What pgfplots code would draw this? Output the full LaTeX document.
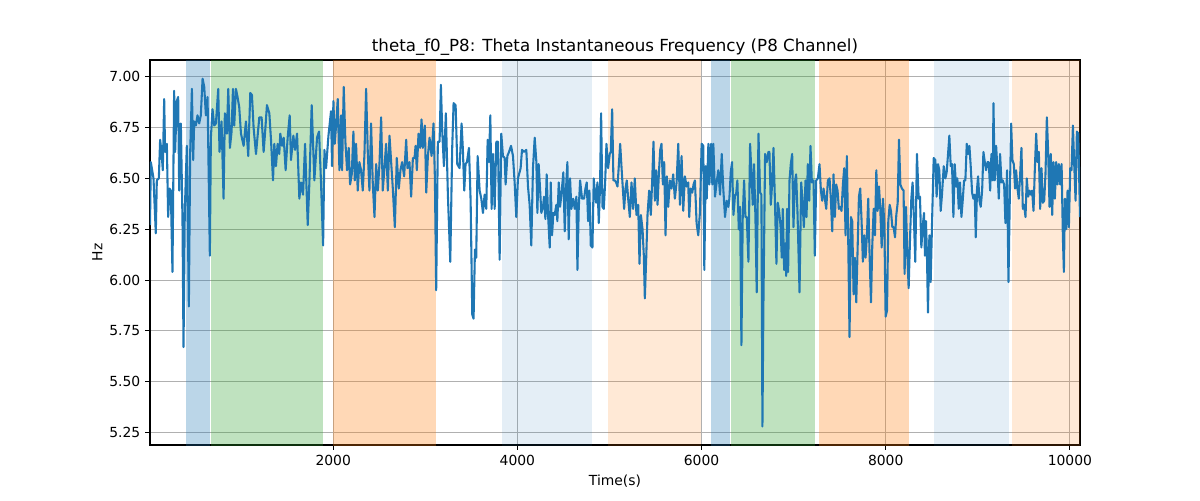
\documentclass[border=0pt]{standalone}
\usepackage{fontspec}
\setmainfont{DejaVu Sans}
\usepackage{pgfplots}
\pgfplotsset{compat=1.18}
\definecolor{lineblue}{RGB}{31,119,180}
\definecolor{tabblue}{RGB}{31,119,180}
\definecolor{tabgreen}{RGB}{44,160,44}
\definecolor{taborange}{RGB}{255,127,14}
\definecolor{gridgray}{RGB}{176,176,176}
\begin{document}
\begin{tikzpicture}
\useasboundingbox (-108pt,-39.6pt) rectangle (756pt,320.4pt);
\begin{axis}[
  at={(0pt,0pt)}, anchor=south west,
  scale only axis, width=669.6pt, height=277.2pt,
  xmin=10, xmax=10110, ymin=5.189, ymax=7.082,
  grid=major, grid style={color=gridgray, line width=0.8pt},
  axis line style={line width=0.8pt},
  tick style={line width=0.8pt, black},
  tick align=outside, major tick length=3.5pt,
  xtick pos=bottom, ytick pos=left,
  scaled x ticks=false, scaled y ticks=false,
  xtick={2000,4000,6000,8000,10000},
  ytick={5.25,5.5,5.75,6.0,6.25,6.5,6.75,7.0},
  x tick label style={/pgf/number format/1000 sep={}},
  y tick label style={/pgf/number format/.cd, fixed, fixed zerofill, precision=2},
  /pgf/number format/assume math mode=true,
  tick label style={font=\fontsize{10}{12}\selectfont},
  every axis title shift=0pt,
  title={theta\_f0\_P8: Theta Instantaneous Frequency (P8 Channel)},
  title style={font=\fontsize{12}{14.4}\selectfont, at={(axis description cs:0.5,1)}, anchor=base, yshift=6pt, inner sep=0pt},
  xlabel={Time(s)},
  xlabel style={font=\fontsize{10}{12}\selectfont, at={(axis description cs:0.5,0)}, anchor=north, yshift=-21.5pt, inner sep=0pt},
  ylabel={Hz},
  ylabel style={font=\fontsize{10}{12}\selectfont, at={(axis description cs:-0.0567,0.5)}, anchor=center, inner sep=0pt},
]
\addplot[fill=tabblue, fill opacity=0.3, draw=none] coordinates {(402,4) (402,8) (660,8) (660,4)};
\addplot[fill=tabgreen, fill opacity=0.3, draw=none] coordinates {(671,4) (671,8) (1893,8) (1893,4)};
\addplot[fill=taborange, fill opacity=0.3, draw=none] coordinates {(1994,4) (1994,8) (3118,8) (3118,4)};
\addplot[fill=tabblue, fill opacity=0.12, draw=none] coordinates {(3829,4) (3829,8) (4808,8) (4808,4)};
\addplot[fill=taborange, fill opacity=0.17, draw=none] coordinates {(4982,4) (4982,8) (5994,8) (5994,4)};
\addplot[fill=tabblue, fill opacity=0.3, draw=none] coordinates {(6102,4) (6102,8) (6309,8) (6309,4)};
\addplot[fill=tabgreen, fill opacity=0.3, draw=none] coordinates {(6317,4) (6317,8) (7234,8) (7234,4)};
\addplot[fill=taborange, fill opacity=0.3, draw=none] coordinates {(7277,4) (7277,8) (8253,8) (8253,4)};
\addplot[fill=tabblue, fill opacity=0.12, draw=none] coordinates {(8521,4) (8521,8) (9344,8) (9344,4)};
\addplot[fill=taborange, fill opacity=0.17, draw=none] coordinates {(9366,4) (9366,8) (10300,8) (10300,4)};
\addplot[color=lineblue, line width=1.5pt, line join=round, mark=none] table {
x y
10 6.27
19 6.58
48 6.50
73 6.23
84 6.49
106 6.50
120 6.69
135 6.63
149 6.54
164 6.89
174 6.63
193 6.67
207 6.31
222 6.45
236 6.44
254 6.04
272 6.93
283 6.63
301 6.88
316 6.90
327 6.44
345 6.77
363 6.29
374 5.67
388 6.34
410 6.66
432 5.87
446 6.62
465 6.94
479 6.59
490 6.78
508 6.76
526 6.81
544 6.77
562 6.81
581 6.99
599 6.95
617 6.81
635 6.90
660 6.12
671 6.70
689 6.84
707 6.76
726 6.77
751 6.94
765 6.63
787 6.78
809 6.40
823 6.82
845 6.72
860 6.94
878 6.65
896 6.73
911 6.94
925 6.76
943 6.94
961 6.90
979 6.85
998 6.72
1027 6.66
1052 6.78
1077 6.61
1099 6.92
1117 6.91
1135 6.75
1161 6.62
1197 6.80
1222 6.80
1244 6.63
1259 6.72
1280 6.86
1306 6.82
1324 6.69
1346 6.49
1360 6.67
1378 6.56
1396 6.67
1414 6.62
1425 6.72
1444 6.66
1462 6.70
1483 6.54
1505 6.70
1527 6.81
1541 6.59
1567 6.71
1585 6.64
1607 6.72
1632 6.40
1650 6.48
1672 6.42
1694 6.67
1723 6.27
1741 6.48
1766 6.86
1795 6.49
1824 6.70
1846 6.73
1868 6.47
1890 6.17
1904 6.64
1922 6.55
1948 6.71
1976 6.83
1987 6.56
2002 6.88
2016 6.67
2031 6.76
2049 6.89
2067 6.54
2085 6.81
2096 6.54
2114 6.95
2132 6.68
2150 6.54
2168 6.65
2183 6.47
2201 6.52
2219 6.73
2234 6.49
2248 6.67
2266 6.44
2284 6.58
2302 6.54
2321 6.44
2339 6.62
2357 6.94
2375 6.63
2393 6.44
2411 6.77
2429 6.48
2448 6.31
2466 6.57
2484 6.44
2502 6.57
2520 6.80
2538 6.44
2556 6.55
2574 6.67
2593 6.44
2611 6.71
2629 6.58
2647 6.45
2669 6.26
2690 6.60
2712 6.45
2730 6.54
2748 6.58
2770 6.51
2792 6.69
2806 6.55
2828 6.58
2846 6.41
2865 6.60
2883 6.60
2894 6.66
2908 6.54
2926 6.72
2944 6.65
2959 6.79
2973 6.65
2995 6.76
3010 6.43
3028 6.61
3046 6.70
3068 6.61
3089 6.77
3104 6.50
3118 5.95
3136 6.68
3155 6.68
3169 6.96
3184 6.73
3202 6.56
3223 6.82
3245 6.42
3271 6.09
3292 6.65
3307 6.87
3329 6.86
3347 6.57
3372 6.55
3394 6.77
3408 6.64
3423 6.44
3437 6.57
3452 6.58
3474 6.65
3492 6.39
3510 5.83
3524 5.81
3539 6.15
3553 6.11
3568 6.61
3590 6.44
3608 6.40
3626 6.33
3644 6.42
3662 6.35
3677 6.69
3691 6.58
3706 6.81
3720 6.35
3735 6.62
3753 6.35
3771 6.68
3789 6.68
3807 6.10
3825 6.72
3843 6.61
3862 6.60
3872 6.47
3891 6.61
3909 6.63
3931 6.66
3952 6.61
3970 6.48
3988 6.31
4006 6.50
4035 6.55
4050 6.64
4072 6.63
4097 6.64
4115 6.46
4133 6.37
4151 6.17
4169 6.55
4188 6.70
4206 6.58
4217 6.33
4231 6.57
4246 6.45
4260 6.33
4278 6.36
4289 6.41
4304 6.30
4318 6.52
4333 6.32
4351 6.16
4362 6.48
4376 6.22
4391 6.33
4405 6.32
4423 6.37
4434 6.29
4449 6.48
4463 6.36
4478 6.42
4499 6.53
4514 6.24
4532 6.49
4543 6.58
4557 6.20
4572 6.50
4586 6.35
4605 6.40
4623 6.35
4641 6.41
4652 6.05
4666 6.35
4681 6.49
4702 6.40
4724 6.40
4739 6.45
4753 6.48
4768 6.29
4782 6.44
4797 6.17
4815 6.16
4829 6.50
4840 6.44
4855 6.38
4869 6.48
4884 6.28
4898 6.47
4909 6.82
4924 6.36
4938 6.35
4953 6.48
4967 6.67
4985 6.55
5003 6.62
5014 6.63
5029 6.84
5043 6.49
5058 6.49
5072 6.48
5087 6.46
5101 6.56
5116 6.67
5130 6.56
5145 6.45
5159 6.35
5174 6.45
5188 6.49
5203 6.40
5221 6.31
5239 6.48
5257 6.35
5275 6.50
5293 6.32
5312 6.37
5326 6.08
5341 6.32
5359 6.25
5373 6.12
5384 5.91
5399 6.11
5413 6.32
5431 6.44
5449 6.32
5464 6.49
5478 6.68
5493 6.39
5507 6.54
5522 6.37
5536 6.52
5551 6.64
5565 6.67
5580 6.47
5594 6.58
5609 6.22
5623 6.51
5638 6.36
5656 6.49
5674 6.45
5692 6.52
5710 6.40
5729 6.48
5747 6.67
5765 6.37
5783 6.61
5801 6.34
5819 6.51
5837 6.46
5855 6.48
5866 6.31
5881 6.45
5899 6.43
5913 6.47
5928 6.49
5946 6.28
5964 6.22
5982 6.33
6001 6.67
6019 6.66
6030 6.05
6045 6.56
6056 6.40
6074 6.67
6085 6.47
6103 6.67
6117 6.47
6128 6.67
6146 6.41
6164 6.48
6182 6.54
6201 6.42
6219 6.62
6237 6.44
6255 6.31
6273 6.39
6291 6.36
6302 6.40
6317 6.53
6331 6.58
6346 6.32
6364 6.42
6375 6.42
6389 6.49
6404 6.25
6418 6.36
6433 5.68
6447 6.31
6462 6.49
6476 6.31
6491 6.31
6509 6.09
6527 6.67
6545 6.49
6556 6.37
6570 6.57
6585 6.31
6599 5.94
6618 6.72
6636 6.43
6650 6.42
6661 5.28
6672 5.89
6690 6.62
6708 6.58
6726 6.63
6737 6.63
6752 6.37
6766 6.47
6781 6.65
6799 6.35
6813 6.08
6828 6.38
6842 6.34
6857 6.27
6871 6.11
6882 6.35
6897 6.05
6908 6.18
6919 6.02
6929 6.35
6940 6.04
6955 6.49
6969 6.57
6984 6.62
6998 6.26
7013 6.48
7027 6.52
7042 6.33
7064 5.94
7082 6.48
7096 6.39
7111 6.26
7129 6.49
7140 6.31
7154 6.57
7169 6.39
7183 6.66
7198 6.48
7216 6.49
7230 6.12
7245 6.49
7263 6.50
7281 6.57
7296 6.44
7310 6.39
7325 6.45
7339 6.40
7354 6.35
7372 6.49
7390 6.50
7404 6.40
7419 6.24
7433 6.52
7448 6.31
7462 6.47
7477 6.44
7491 6.35
7506 6.36
7520 6.34
7535 6.47
7549 6.55
7564 6.22
7578 6.61
7593 6.19
7607 5.72
7622 6.31
7636 6.29
7651 5.93
7665 6.11
7680 5.89
7694 6.14
7709 6.41
7723 6.45
7738 6.29
7752 6.09
7767 6.22
7781 6.11
7796 6.22
7810 6.40
7825 6.12
7840 5.89
7854 6.17
7869 6.35
7883 6.22
7898 6.54
7912 6.34
7927 6.46
7941 6.35
7956 6.16
7970 6.40
7985 6.27
7999 5.82
8014 5.85
8028 6.29
8043 6.37
8057 6.34
8072 6.26
8086 6.26
8101 6.21
8115 6.32
8130 6.38
8144 6.69
8159 6.47
8176 6.45
8194 6.44
8205 6.03
8220 6.36
8234 6.14
8249 5.96
8263 6.19
8278 6.40
8292 6.48
8307 6.29
8321 6.09
8339 6.62
8358 6.40
8372 6.41
8387 6.16
8401 6.26
8416 6.33
8426 6.12
8437 6.29
8448 6.12
8459 5.84
8474 6.22
8488 5.99
8503 6.28
8521 6.60
8539 6.59
8553 6.41
8568 6.57
8582 6.54
8597 6.34
8611 6.42
8630 6.56
8648 6.50
8662 6.53
8677 6.62
8691 6.71
8706 6.56
8720 6.57
8735 6.31
8749 6.57
8764 6.46
8778 6.50
8793 6.35
8807 6.48
8822 6.31
8836 6.39
8851 6.49
8865 6.49
8880 6.67
8894 6.62
8909 6.66
8923 6.56
8938 6.43
8952 6.40
8967 6.42
8978 6.21
8992 6.45
9003 6.51
9018 6.39
9032 6.36
9047 6.44
9061 6.63
9076 6.58
9090 6.54
9105 6.58
9119 6.58
9134 6.44
9148 6.62
9163 6.49
9170 6.87
9184 6.49
9199 6.66
9213 6.55
9228 6.40
9242 6.62
9257 6.48
9271 6.49
9286 6.47
9300 6.28
9318 6.54
9333 5.99
9347 6.39
9362 6.77
9376 6.59
9391 6.57
9405 6.45
9416 6.54
9431 6.45
9445 6.40
9460 6.52
9474 6.65
9489 6.35
9503 6.37
9518 6.31
9532 6.50
9547 6.41
9561 6.44
9576 6.42
9590 6.44
9605 6.34
9619 6.54
9634 6.72
9648 6.58
9663 6.63
9677 6.35
9692 6.55
9706 6.38
9721 6.39
9735 6.52
9750 6.80
9764 6.63
9779 6.36
9793 6.62
9808 6.32
9822 6.58
9837 6.40
9851 6.58
9866 6.47
9880 6.57
9895 6.47
9910 6.57
9924 6.21
9935 6.04
9946 6.40
9960 6.25
9975 6.44
9989 6.26
10004 6.55
10018 6.54
10033 6.76
10047 6.57
10062 6.39
10076 6.73
10091 6.72
10110 6.31
};
\end{axis}
\end{tikzpicture}
\end{document}
